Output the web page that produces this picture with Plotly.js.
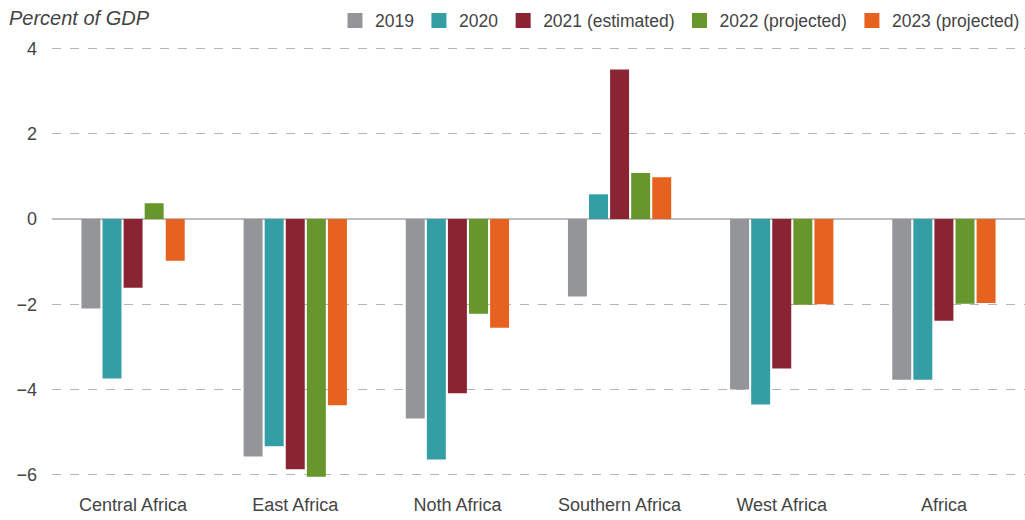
<!DOCTYPE html>
<html><head><meta charset="utf-8">
<script src="https://cdn.plot.ly/plotly-3.0.1.min.js"></script>
<style>html,body{margin:0;padding:0;background:#fff;}#chart{width:1025px;height:520px;}</style>
</head><body><div id="chart"></div>
<script>
const categories = ["Central Africa","East Africa","Noth Africa","Southern Africa","West Africa","Africa"];
const seriesNames = ["2019","2020","2021 (estimated)","2022 (projected)","2023 (projected)"];
const v2019 = [-2.1, -5.57, -4.68, -1.82, -4.0, -3.77];
const v2020 = [-3.74, -5.33, -5.64, 0.58, -4.35, -3.77];
const v2021 = [-1.61, -5.87, -4.09, 3.51, -3.51, -2.39];
const v2022 = [0.37, -6.05, -2.22, 1.08, -2.01, -1.99];
const v2023 = [-0.98, -4.37, -2.55, 0.98, -2.0, -1.97];
const yTicks = [-6,-4,-2,0,2,4];
const yTickText = ["\u22126","\u22124","\u22122","0","2","4"];
const colors = ["#939598","#339EA3","#8A2432","#66962C","#E8621F"];
const allValues = [v2019, v2020, v2021, v2022, v2023];

const font = "Liberation Sans, Arial, sans-serif";
const traces = allValues.map((vals, i) => ({
  type: "bar", name: seriesNames[i], x: categories, y: vals,
  marker: {color: colors[i]}, hoverinfo: "skip"
}));
const layout = {
  width: 1025, height: 520,
  margin: {l: 52, r: 0, t: 39.5, b: 40.5},
  paper_bgcolor: "#fff", plot_bgcolor: "#fff",
  font: {family: font, size: 18, color: "#444"},
  barmode: "group", bargap: 0.35, bargroupgap: 0.1,
  showlegend: true,
  legend: {orientation: "h", x: 1, xanchor: "right", y: 1.085, yanchor: "top",
    font: {family: font, size: 17.5, color: "#444"}, itemwidth: 30, traceorder: "normal", itemclick: false},
  xaxis: {type: "category", showline: false, ticks: "", ticklabelstandoff: 13, tickfont: {family: font, size: 18, color: "#444"}, showgrid: false, zeroline: false},
  yaxis: {range: [-6.1, 4.2], tickvals: yTicks, ticktext: yTickText, showgrid: true, gridcolor: "#b5b5b5", griddash: "dash", gridwidth: 1,
    zeroline: true, zerolinecolor: "#bdbdbd", zerolinewidth: 2, ticks: "", ticklabelstandoff: 14, tickfont: {family: font, size: 18, color: "#444"}},
  annotations: [{text: "<i>Percent of GDP</i>", xref: "paper", yref: "paper", x: -0.046, y: 1.051, xanchor: "left", yanchor: "middle",
    showarrow: false, font: {family: font, size: 20, color: "#444"}}]
};
Plotly.newPlot("chart", traces, layout, {displayModeBar: false, staticPlot: true}).then(() => {
  document.querySelectorAll(".legend .legendpoints path").forEach(p => {
    p.setAttribute("d", "M7.5,7.5H-7.5V-7.5H7.5Z");
  });
});
</script></body></html>
